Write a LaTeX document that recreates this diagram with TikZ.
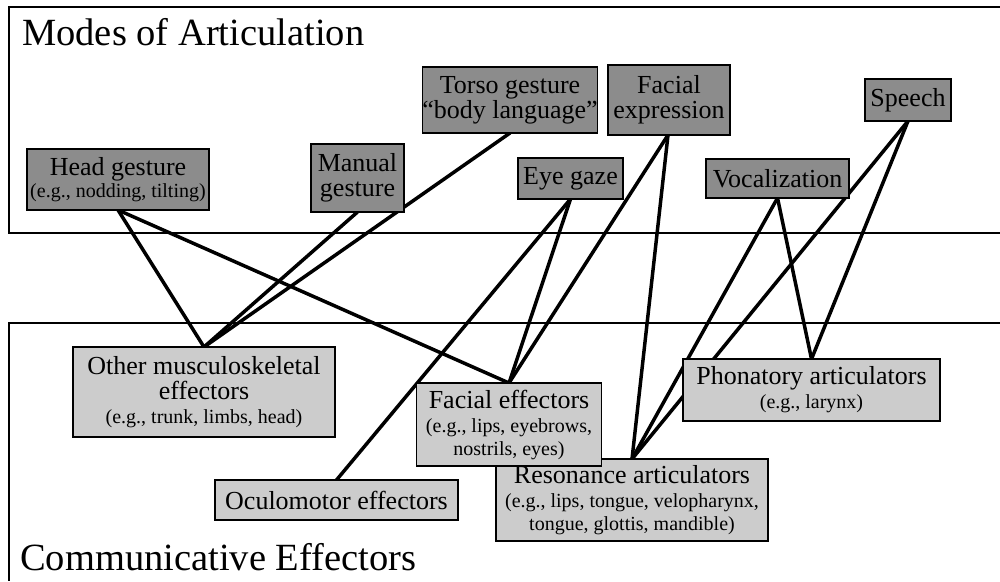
\documentclass[tikz,border=0pt]{standalone}
\usepackage{fontspec}
\setmainfont{Liberation Serif}
\begin{document}
\begin{tikzpicture}[x=1pt,y=-1pt,
  mode/.style={draw=black,line width=1.5pt,fill=black!45,inner sep=0pt,align=center,
    font=\fontsize{26}{25}\selectfont},
  effector/.style={draw=black,line width=1.5pt,fill=black!20,inner sep=0pt,align=center,
    font=\fontsize{26}{25}\selectfont},
  link/.style={line width=3.5pt,line cap=round},
  panel/.style={line width=1.5pt},
  title/.style={anchor=base west,inner sep=0pt,font=\fontsize{38.5}{40}\selectfont}]
\useasboundingbox (0,0) rectangle (1000,581);
\newcommand{\smalltext}{\fontsize{20}{20}\selectfont}

% panel outlines
\draw[panel] (1000,7) -- (9,7) -- (9,233) -- (1000,233);
\draw[panel] (1000,323) -- (9,323) -- (9,581);
\node[title] (ttop) at (22,45) {Modes of Articulation};
\node[title] (tbot) at (20,570) {Communicative Effectors};

% connector ends (connectors are drawn below the boxes)
\coordinate (head-s) at (118,210);
\coordinate (manual-s) at (357.5,212);
\coordinate (torso-s) at (510,133);
\coordinate (facexp-s) at (668,135);
\coordinate (eye-s) at (570.5,199);
\coordinate (vocal-s) at (777.5,198);
\coordinate (speech-s) at (908,121);
\coordinate (other-n) at (204,347);
\coordinate (oculo-n) at (336.5,480);
\coordinate (faceff-n) at (509,383);
\coordinate (reson-n) at (632,459);
\coordinate (phon-n) at (811.5,359);

% connectors
\draw[link] (head-s) -- (other-n);
\draw[link] (head-s) -- (faceff-n);
\draw[link] (manual-s) -- (other-n);
\draw[link] (torso-s) -- (other-n);
\draw[link] (facexp-s) -- (faceff-n);
\draw[link] (facexp-s) -- (reson-n);
\draw[link] (eye-s) -- (oculo-n);
\draw[link] (eye-s) -- (faceff-n);
\draw[link] (vocal-s) -- (phon-n);
\draw[link] (vocal-s) -- (reson-n);
\draw[link] (speech-s) -- (reson-n);
\draw[link] (speech-s) -- (phon-n);

% modes of articulation
\node[mode,minimum width=182pt,minimum height=61pt] (head) at (118,179.5)
  {Head gesture\\[-3pt]{\smalltext(e.g., nodding, tilting)}};
\node[mode,minimum width=93pt,minimum height=68pt] (manual) at (357.5,178) {Manual\\gesture};
\node[mode,minimum width=166pt,minimum height=66pt] (torso) at (510,100) {Torso gesture\\``body language''};
\node[mode,minimum width=122pt,minimum height=70pt] (facexp) at (669,100) {Facial\\expression};
\node[mode,minimum width=105pt,minimum height=41pt] (eye) at (570.5,178.5) {Eye gaze};
\node[mode,minimum width=143pt,minimum height=39pt] (vocal) at (777.5,178.5) {Vocalization};
\node[mode,minimum width=86pt,minimum height=42pt] (speech) at (908,100) {Speech};

% communicative effectors
\node[effector,minimum width=262pt,minimum height=90pt] (other) at (204,392)
  {Other musculoskeletal\\effectors\\[-1pt]{\smalltext(e.g., trunk, limbs, head)}};
\node[effector,minimum width=243pt,minimum height=40pt] (oculo) at (336.5,500) {Oculomotor effectors};
\node[effector,minimum width=272pt,minimum height=82pt] (reson) at (632,500)
  {Resonance articulators\\[-1pt]{\smalltext(e.g., lips, tongue, velopharynx,}\\[-2pt]{\smalltext tongue, glottis, mandible)}};
\node[effector,minimum width=185pt,minimum height=83pt] (faceff) at (509,424.5)
  {Facial effectors\\[-1pt]{\smalltext(e.g., lips, eyebrows,}\\[-2pt]{\smalltext nostrils, eyes)}};
\node[effector,minimum width=257pt,minimum height=62pt] (phon) at (811.5,390)
  {Phonatory articulators\\[-1pt]{\smalltext(e.g., larynx)}};
\end{tikzpicture}
\end{document}
